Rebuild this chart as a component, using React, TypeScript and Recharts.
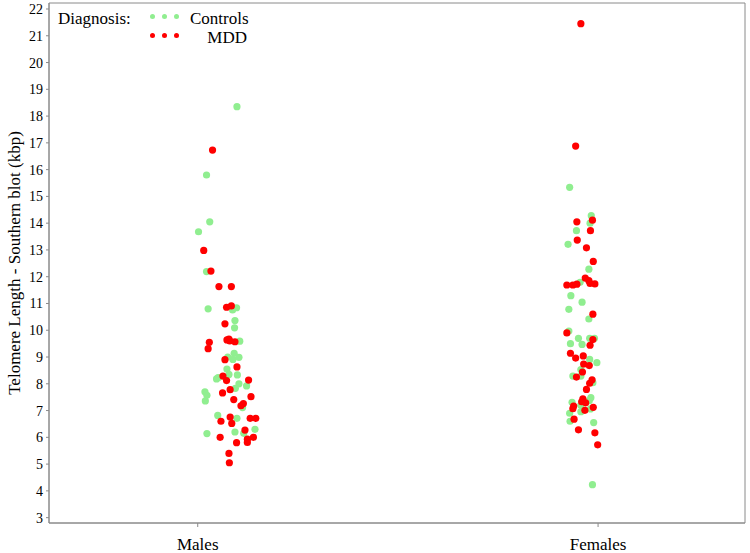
import { ScatterChart, Scatter, XAxis, YAxis, ReferenceArea, Legend } from 'recharts'

const FONT = '"Liberation Serif", "Times New Roman", serif'
const GREEN = '#90ee90'
const RED = '#ff0000'
const AXIS = '#8a8a8a'

const categories = ['Males', 'Females']
const yTicks = [3, 4, 5, 6, 7, 8, 9, 10, 11, 12, 13, 14, 15, 16, 17, 18, 19, 20, 21, 22]

// [horizontal jitter, telomere length in kbp]
const maleControls = [
  [0.098, 18.35], [0.022, 15.8], [0.03, 14.05], [0.002, 13.68], [0.022, 12.19],
  [0.026, 10.8], [0.097, 10.84], [0.087, 10.76], [0.093, 10.36], [0.092, 10.09],
  [0.105, 9.59], [0.091, 9.14], [0.103, 8.99], [0.088, 8.91], [0.075, 9.0],
  [0.073, 8.55], [0.078, 8.35], [0.099, 8.33], [0.051, 8.23], [0.047, 8.18],
  [0.103, 8.0], [0.122, 7.92], [0.094, 7.83], [0.018, 7.7], [0.023, 7.57],
  [0.019, 7.36], [0.112, 7.11], [0.05, 6.82], [0.098, 6.71], [0.143, 6.3],
  [0.093, 6.2], [0.023, 6.14], [0.115, 6.15],
]

const maleMdd = [
  [0.037, 16.73], [0.015, 12.98], [0.033, 12.21], [0.053, 11.63], [0.084, 11.63],
  [0.072, 10.86], [0.084, 10.91], [0.068, 10.24], [0.029, 9.55], [0.073, 9.64],
  [0.078, 9.67], [0.08, 9.6], [0.093, 9.57], [0.026, 9.31], [0.068, 8.9],
  [0.098, 8.63], [0.063, 8.29], [0.127, 8.14], [0.072, 8.12], [0.081, 7.78],
  [0.062, 7.66], [0.133, 7.52], [0.09, 7.41], [0.108, 7.18], [0.114, 7.26],
  [0.081, 6.76], [0.058, 6.6], [0.085, 6.52], [0.131, 6.71], [0.145, 6.71],
  [0.118, 6.27], [0.056, 6.0], [0.139, 6.0], [0.124, 5.93], [0.124, 5.81],
  [0.097, 5.8], [0.078, 5.4], [0.079, 5.05],
]

const femaleControls = [
  [-0.071, 15.34], [-0.017, 14.28], [-0.02, 14.0], [-0.054, 13.72], [-0.075, 13.21],
  [-0.023, 12.28], [-0.045, 11.79], [-0.068, 11.29], [-0.04, 11.05], [-0.073, 10.78],
  [-0.023, 10.42], [-0.073, 9.97], [-0.049, 9.7], [-0.021, 9.7], [-0.009, 9.7],
  [-0.069, 9.5], [-0.04, 9.47], [-0.021, 8.91], [-0.003, 8.79], [-0.043, 8.53],
  [-0.063, 8.29], [-0.043, 8.29], [-0.013, 8.04], [-0.018, 7.48], [-0.022, 7.37],
  [-0.065, 7.31], [-0.043, 7.2], [-0.019, 7.06], [-0.071, 6.9], [-0.043, 6.96],
  [-0.07, 6.6], [-0.011, 6.55], [-0.014, 4.23],
]

const femaleMdd = [
  [-0.043, 21.45], [-0.056, 16.88], [-0.014, 14.11], [-0.053, 14.05], [-0.019, 13.72],
  [-0.052, 13.37], [-0.029, 13.08], [-0.012, 12.57], [-0.032, 11.95], [-0.023, 11.85],
  [-0.02, 11.75], [-0.008, 11.73], [-0.078, 11.69], [-0.063, 11.69], [-0.053, 11.72],
  [-0.013, 10.6], [-0.078, 9.9], [-0.013, 9.65], [-0.02, 9.44], [-0.069, 9.14],
  [-0.037, 9.04], [-0.056, 8.96], [-0.036, 8.74], [-0.022, 8.68], [-0.039, 8.44],
  [-0.054, 8.25], [-0.015, 8.15], [-0.021, 8.02], [-0.029, 7.79], [-0.038, 7.44],
  [-0.041, 7.33], [-0.031, 7.29], [-0.061, 7.17], [-0.063, 7.07], [-0.012, 7.12],
  [-0.033, 7.01], [-0.06, 6.68], [-0.049, 6.28], [-0.008, 6.17], [-0.001, 5.72],
]

const toPoints = (rows: number[][], cat: number) =>
  rows.map(([j, v]) => ({ x: cat + 1 + j, y: v }))

const controls = [...toPoints(maleControls, 0), ...toPoints(femaleControls, 1)]
const mdd = [...toPoints(maleMdd, 0), ...toPoints(femaleMdd, 1)]

const dot = (color: string) => (p: any) => <circle cx={p.cx} cy={p.cy} r={3.6} fill={color} />

const legendDot = (color: string, x: number, y: number) => (
  <span
    key={`${color}${x}`}
    style={{ position: 'absolute', left: x - 2.5, top: y - 2.5, width: 5, height: 5, borderRadius: 3, background: color }}
  />
)

function DiagnosisLegend() {
  const text = { position: 'absolute' as const, lineHeight: '17px', whiteSpace: 'nowrap' as const }
  return (
    <div style={{ position: 'relative', width: 260, height: 50, fontFamily: FONT, fontSize: 17, color: '#000' }}>
      <span style={{ ...text, left: 58, top: 10 }}>Diagnosis:</span>
      {[152, 164, 176].map((x) => legendDot(GREEN, x, 16))}
      <span style={{ ...text, left: 190, top: 10 }}>Controls</span>
      {[152, 164, 176].map((x) => legendDot(RED, x, 35))}
      <span style={{ ...text, right: 13, top: 28.5 }}>MDD</span>
    </div>
  )
}

export default function App() {
  return (
    <div style={{ position: 'absolute', left: 0, top: 0 }}>
      <ScatterChart width={750} height={553} margin={{ top: 3, right: 5, bottom: 0, left: 0 }}>
        <XAxis
          type="number"
          dataKey="x"
          domain={[0.6285, 2.367]}
          allowDataOverflow
          ticks={[1, 2]}
          tickFormatter={(v: number) => categories[v - 1]}
          height={30}
          stroke={AXIS}
          tickSize={4}
          tickMargin={11}
          tick={{ fill: '#000', fontSize: 17, fontFamily: FONT }}
        />
        <YAxis
          type="number"
          dataKey="y"
          domain={[2.8, 22.224]}
          allowDataOverflow
          ticks={yTicks}
          interval={0}
          width={49}
          stroke={AXIS}
          tickSize={3}
          tickMargin={3}
          tick={{ fill: '#000', fontSize: 14, fontFamily: FONT }}
          label={{
            value: 'Telomere Length - Southern blot (kbp)',
            angle: -90,
            position: 'center',
            dx: -10.5,
            style: { fill: '#000', fontSize: 17, fontFamily: FONT, textAnchor: 'middle' },
          }}
        />
        <ReferenceArea x1={0.6285} x2={2.367} y1={2.8} y2={22.224} fill="none" stroke={AXIS} />
        <Legend
          layout="vertical"
          align="center"
          verticalAlign="middle"
          wrapperStyle={{ top: 0, left: 0, width: 260, height: 50 }}
          content={() => <DiagnosisLegend />}
        />
        <Scatter name="Controls" data={controls} fill={GREEN} shape={dot(GREEN)} isAnimationActive={false} />
        <Scatter name="MDD" data={mdd} fill={RED} shape={dot(RED)} isAnimationActive={false} />
      </ScatterChart>
    </div>
  )
}
